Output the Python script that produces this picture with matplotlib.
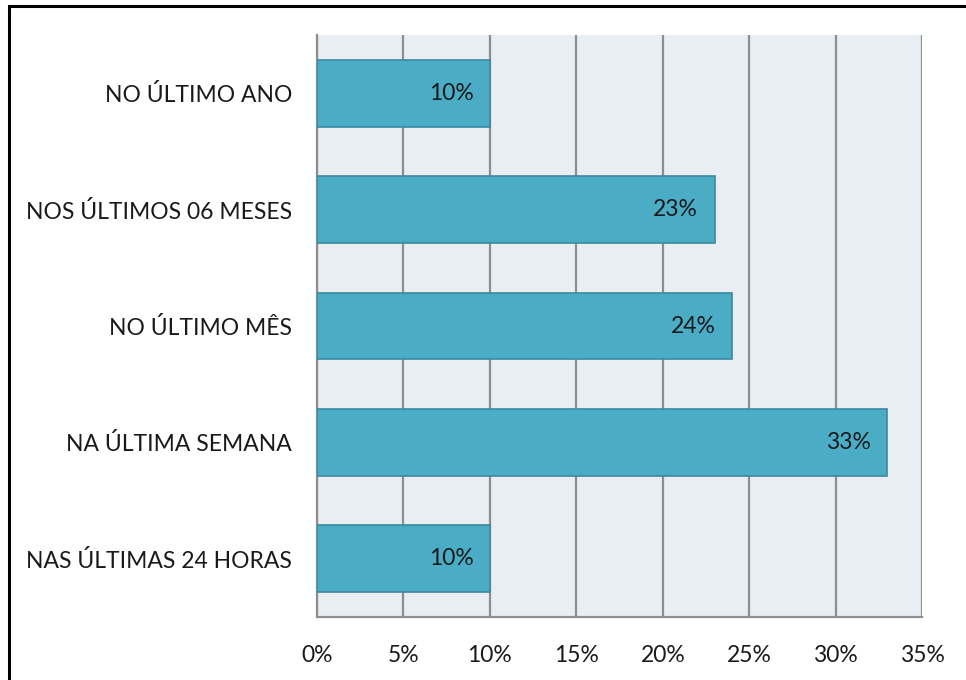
import matplotlib
matplotlib.use("Agg")
import matplotlib.pyplot as plt
from matplotlib.patches import Rectangle

plt.rcParams['font.family'] = ['Lato', 'DejaVu Sans']

categories = ["NAS ÚLTIMAS 24 HORAS", "NA ÚLTIMA SEMANA", "NO ÚLTIMO MÊS",
              "NOS ÚLTIMOS 06 MESES", "NO ÚLTIMO ANO"]
values = [10, 33, 24, 23, 10]
xticks = [0, 5, 10, 15, 20, 25, 30, 35]

fig = plt.figure(figsize=(9.66, 6.8), dpi=100)
ax = fig.add_axes([0.3282, 0.0926, 0.6263, 0.8559])
ax.set_facecolor("#E8EEF2")

ypos = range(len(categories))
ax.barh(ypos, values, height=0.575, color="#4BACC6", edgecolor="#3A8AA1",
        linewidth=1.2, zorder=3)
for y, v in zip(ypos, values):
    ax.text(v - 0.95, y, f"{v}%", ha="right", va="center", fontsize=16.5,
            color="#1a1a1a", zorder=4)

ax.set_xlim(0, 35)
ax.set_ylim(-0.5, len(categories) - 0.5)
ax.set_xticks(xticks)
ax.set_xticklabels([f"{t}%" for t in xticks], fontsize=16.5, color="#1a1a1a")
ax.set_yticks(list(ypos))
ax.set_yticklabels(categories, fontsize=16.5, color="#1a1a1a")
ax.tick_params(axis="both", length=0)
ax.tick_params(axis="y", pad=18)
ax.tick_params(axis="x", pad=20)
ax.xaxis.grid(True, color="#8E8E8E", linewidth=1.6, zorder=1)
ax.set_axisbelow(True)

for side in ("top", "right"):
    ax.spines[side].set_visible(False)
for side in ("left", "bottom"):
    ax.spines[side].set_color("#8E8E8E")
    ax.spines[side].set_linewidth(1.6)

# outer frame, open on the right and bottom edges
fig.patches.append(Rectangle((8.5 / 966, -0.1), 1.2, 1.1 - 6 / 680,
                             transform=fig.transFigure, fill=False,
                             edgecolor="black", linewidth=2.2))

fig.savefig("out.png", dpi=100)
